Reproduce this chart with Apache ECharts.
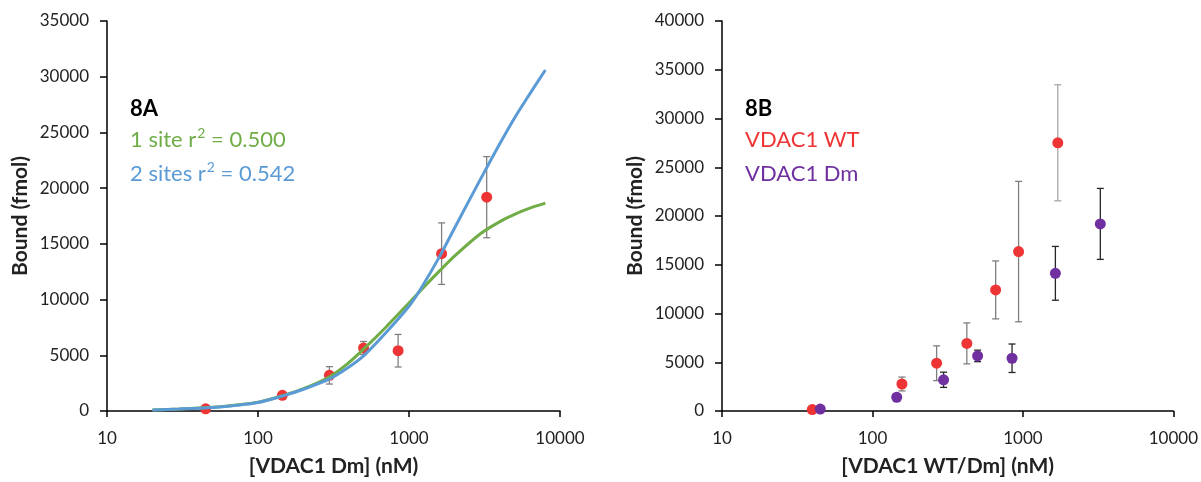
<!DOCTYPE html>
<html>
<head>
<meta charset="utf-8">
<script src="https://cdn.jsdelivr.net/npm/echarts@6/dist/echarts.min.js"></script>
<style>
html,body{margin:0;padding:0;background:#fff;}
#chart{width:1201px;height:482px;}
</style>
</head>
<body>
<div id="chart"></div>
<script>
// ---- data ----
const dmX   = [45, 145, 297, 500, 847, 1644, 3270];
const dmY   = [200, 1410, 3200, 5650, 5410, 14120, 19190];
const dmErr = [0, 0, 780, 590, 1460, 2760, 3640];

const wtX   = [39.8, 157, 267, 424, 659, 936, 1706];
const wtY   = [150, 2770, 4900, 6935, 12420, 16350, 27510];
const wtErr = [0, 710, 1780, 2100, 2970, 7200, 5950];

const fitX     = [20, 30, 50, 70, 100, 150, 200, 300, 400, 500, 700, 1000, 1200, 1600, 2000, 3000, 4000, 5000, 6000, 8000];
const oneSiteY = [100, 180, 330, 510, 780, 1430, 2000, 3100, 4350, 5550, 7500, 9700, 10850, 12600, 13900, 15950, 17000, 17650, 18100, 18650];
const twoSiteY = [100, 180, 320, 500, 760, 1400, 1950, 2900, 3950, 4950, 7000, 9400, 11000, 13900, 16400, 20900, 24000, 26300, 28000, 30600];

const xTicks = [10, 100, 1000, 10000];
const yMaxA = 35000, yMaxB = 40000, yStep = 5000;

const titleA = '8A', titleB = '8B';
const fit1 = ['1 site r', '2', ' = 0.500'];
const fit2 = ['2 sites r', '2', ' = 0.542'];
const legWT = 'VDAC1 WT', legDm = 'VDAC1 Dm';
const xNameA = '[VDAC1 Dm] (nM)', xNameB = '[VDAC1 WT/Dm] (nM)', yName = 'Bound (fmol)';

// ---- styles ----
const FONT = 'Lato';
const RED = '#EE3434', PURPLE = '#7030A0', GREEN = '#70AD47', BLUE = '#5B9BD5';

const pairs = (xs, ys) => xs.map((x, i) => [x, ys[i]]);
const triples = (xs, ys, es) => xs.map((x, i) => [x, ys[i], es[i]]);

function errRender(colorFn) {
  return function (params, api) {
    const x = api.value(0), y = api.value(1), e = api.value(2);
    if (!e) return null;
    const t = api.coord([x, y + e]);
    const b = api.coord([x, y - e]);
    const hw = 3.5;
    const st = { stroke: colorFn(params.dataIndex), lineWidth: 1.3 };
    return {
      type: 'group',
      children: [
        { type: 'line', shape: { x1: t[0], y1: t[1], x2: b[0], y2: b[1] }, style: st },
        { type: 'line', shape: { x1: t[0] - hw, y1: t[1], x2: t[0] + hw, y2: t[1] }, style: st },
        { type: 'line', shape: { x1: b[0] - hw, y1: b[1], x2: b[0] + hw, y2: b[1] }, style: st }
      ]
    };
  };
}

function xAxisCfg(gridIndex, name) {
  return {
    type: 'log', logBase: 10, gridIndex, min: xTicks[0], max: xTicks[xTicks.length - 1],
    name, nameLocation: 'middle', nameGap: 45,
    nameTextStyle: { fontFamily: FONT, fontSize: 21, fontWeight: 'bold', color: '#222' },
    axisLine: { lineStyle: { color: '#000', width: 1.5 } },
    axisTick: { show: true, inside: false, length: 6, lineStyle: { color: '#000', width: 1.5 } },
    minorTick: { show: false },
    splitLine: { show: false },
    axisLabel: { fontFamily: FONT, fontSize: 17, color: '#222', margin: 19,
      formatter: v => String(Math.round(v)) }
  };
}
function yAxisCfg(gridIndex, max) {
  return {
    type: 'value', gridIndex, min: 0, max, interval: yStep,
    name: yName, nameLocation: 'middle', nameGap: 76,
    nameTextStyle: { fontFamily: FONT, fontSize: 21, fontWeight: 'bold', color: '#222' },
    axisLine: { show: true, lineStyle: { color: '#000', width: 1.5 } },
    axisTick: { show: true, inside: false, length: 7, lineStyle: { color: '#000', width: 1.5 } },
    splitLine: { show: false },
    axisLabel: { fontFamily: FONT, fontSize: 17, color: '#222', margin: 18,
      formatter: v => String(v) }
  };
}

function supText(parts, color) {
  return {
    text: '{a|' + parts[0] + '}{s|' + parts[1] + '}{a|' + parts[2] + '}',
    rich: {
      a: { fontFamily: FONT, fontSize: 22, fill: color, lineHeight: 26, verticalAlign: 'bottom' },
      s: { fontFamily: FONT, fontSize: 14, fill: color, lineHeight: 26, verticalAlign: 'top', padding: [1, 0, 0, 1] }
    }
  };
}

const chart = echarts.init(document.getElementById('chart'), null, { renderer: 'canvas' });
chart.setOption({
  backgroundColor: '#fff',
  animation: false,
  grid: [
    { left: 107, top: 21, width: 453, height: 394 },
    { left: 722, top: 21, width: 452, height: 394 }
  ],
  xAxis: [xAxisCfg(0, xNameA), xAxisCfg(1, xNameB)],
  yAxis: [yAxisCfg(0, yMaxA), yAxisCfg(1, yMaxB)],
  graphic: [
    { type: 'text', left: 130, top: 98, style: { text: titleA, font: 'bold 22px ' + FONT, fill: '#000' } },
    { type: 'text', left: 130, top: 125, style: supText(fit1, GREEN) },
    { type: 'text', left: 130, top: 159, style: supText(fit2, BLUE) },
    { type: 'text', left: 745, top: 98, style: { text: titleB, font: 'bold 22px ' + FONT, fill: '#000' } },
    { type: 'text', left: 745, top: 129, style: { text: legWT, font: '22px ' + FONT, fill: RED } },
    { type: 'text', left: 745, top: 163, style: { text: legDm, font: '22px ' + FONT, fill: PURPLE } }
  ],
  series: [
    // ---- 8A ----
    { type: 'custom', xAxisIndex: 0, yAxisIndex: 0, z: 1,
      renderItem: errRender(() => '#808080'), data: triples(dmX, dmY, dmErr) },
    { type: 'line', xAxisIndex: 0, yAxisIndex: 0, z: 3, smooth: 0.3, showSymbol: false,
      lineStyle: { color: GREEN, width: 3 }, data: pairs(fitX, oneSiteY) },
    { type: 'line', xAxisIndex: 0, yAxisIndex: 0, z: 4, smooth: 0.3, showSymbol: false,
      lineStyle: { color: BLUE, width: 3 }, data: pairs(fitX, twoSiteY) },
    { type: 'scatter', xAxisIndex: 0, yAxisIndex: 0, z: 2, symbolSize: 11,
      itemStyle: { color: RED, opacity: 1 }, data: pairs(dmX, dmY) },
    // ---- 8B ----
    { type: 'custom', xAxisIndex: 1, yAxisIndex: 1, z: 1,
      renderItem: errRender(i => i === wtX.length - 1 ? '#A6A6A6' : '#7F7F7F'), data: triples(wtX, wtY, wtErr) },
    { type: 'custom', xAxisIndex: 1, yAxisIndex: 1, z: 1,
      renderItem: errRender(() => '#262626'), data: triples(dmX, dmY, dmErr) },
    { type: 'scatter', xAxisIndex: 1, yAxisIndex: 1, z: 3, symbolSize: 11,
      itemStyle: { color: RED, opacity: 1 }, data: pairs(wtX, wtY) },
    { type: 'scatter', xAxisIndex: 1, yAxisIndex: 1, z: 3, symbolSize: 11,
      itemStyle: { color: PURPLE, opacity: 1 }, data: pairs(dmX, dmY) }
  ]
});
</script>
</body>
</html>
